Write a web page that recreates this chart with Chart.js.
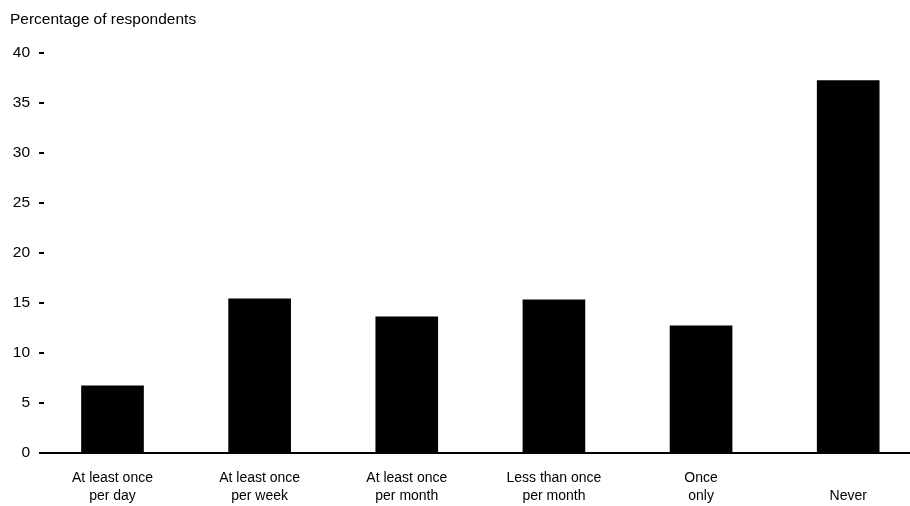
<!DOCTYPE html>
<html>
<head>
<meta charset="utf-8">
<script src="https://cdn.jsdelivr.net/npm/chart.js@4"></script>
<style>
  html, body { margin: 0; padding: 0; background: #fff; }
  #wrap { width: 910px; height: 506px; }
</style>
</head>
<body>
<div id="wrap"><canvas id="chart"></canvas></div>
<script>
// "Never" sits on the second label line in the original, so it gets an empty first line
const categories = [
    ["At least once", "per day"],
    ["At least once", "per week"],
    ["At least once", "per month"],
    ["Less than once", "per month"],
    ["Once", "only"],
    ["", "Never"]
];
const percentages = [6.7, 15.4, 13.6, 15.3, 12.7, 37.2];
const yTicks = [0, 5, 10, 15, 20, 25, 30, 35, 40];

const fontName = "'Liberation Sans', Arial, sans-serif";

document.addEventListener("DOMContentLoaded", () => {
    const ctx = document.getElementById("chart").getContext("2d");

    new Chart(ctx, {
        type: "bar",
        data: {
            datasets: [{
                data: percentages.map((v, i) => ({ x: i, y: v })),
                backgroundColor: "#000",
                borderWidth: 0,
                barThickness: 62
            }]
        },
        options: {
            responsive: true,
            maintainAspectRatio: false,
            animation: false,
            layout: { padding: { left: 10, right: 0, top: 0, bottom: 0 } },
            plugins: {
                legend: { display: false },
                tooltip: { enabled: false },
                title: {
                    display: true,
                    text: "Percentage of respondents",
                    align: "start",
                    color: "#000",
                    font: { family: fontName, size: 15.5, weight: "normal", lineHeight: 1.2 },
                    padding: { top: 10, bottom: 24 }
                }
            },
            scales: {
                x: {
                    type: "linear",
                    offset: false,
                    min: -0.4655,
                    max: 5.42,
                    afterBuildTicks: (scale) => {
                        scale.ticks = categories.map((c, i) => ({ value: i }));
                    },
                    afterFit: (scale) => { scale.height = 53; },
                    grid: { display: false },
                    border: { display: false },
                    ticks: {
                        autoSkip: false,
                        maxRotation: 0,
                        color: "#000",
                        padding: 8,
                        font: { family: fontName, size: 14, lineHeight: 1.3 },
                        callback: (v) => categories[v]
                    }
                },
                y: {
                    min: 0,
                    max: 40,
                    afterBuildTicks: (scale) => {
                        scale.ticks = yTicks.map(v => ({ value: v }));
                    },
                    afterFit: (scale) => { scale.width = 34; },
                    border: { display: false },
                    grid: {
                        color: (c) => c.tick && c.tick.value === 0 ? "#000" : "rgba(0,0,0,0)",
                        lineWidth: 2,
                        tickColor: "#000",
                        tickWidth: 2,
                        tickLength: 5
                    },
                    ticks: {
                        color: "#000",
                        padding: 9,
                        font: { family: fontName, size: 15.5 }
                    }
                }
            }
        }
    });
});
</script>
</body>
</html>
